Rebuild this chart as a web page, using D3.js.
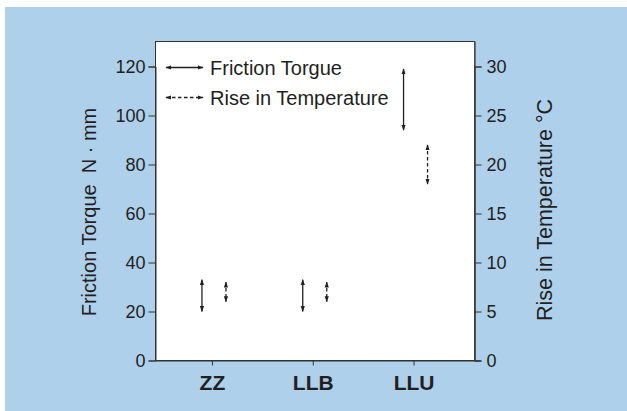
<!DOCTYPE html>
<html><head><meta charset="utf-8">
<script src="https://cdn.jsdelivr.net/npm/d3@7"></script>
<style>body{margin:0;background:#fff}svg{display:block}text{font-family:"Liberation Sans",Arial,sans-serif;fill:#231f20}</style>
</head><body><svg id="c" width="627" height="411"></svg>
<script>
const categories = ["ZZ", "LLB", "LLU"];
const torqueLow = [20, 20, 94];
const torqueHigh = [33, 33, 119];
const tempLow = [6, 6, 18];
const tempHigh = [8, 8, 22];
const torqueTicks = [0, 20, 40, 60, 80, 100, 120];
const tempTicks = [0, 5, 10, 15, 20, 25, 30];
const legendLabels = ["Friction Torgue", "Rise in Temperature"];

const svg = d3.select("#c");
const L = 155.5, R = 474.5, T = 41.5, B = 360.5;
svg.append("rect").attr("x", 5).attr("y", 7).attr("width", 622).attr("height", 404).attr("fill", "#aed0eb");
svg.append("rect").attr("x", L).attr("y", T).attr("width", R - L).attr("height", B - T).attr("fill", "#fff").attr("stroke", "#333").attr("stroke-width", 1);
svg.append("line").attr("x1", R + 0.5).attr("x2", R + 0.5).attr("y1", T).attr("y2", B).attr("stroke", "#555").attr("stroke-width", 1.5);

const x = d3.scalePoint().domain(categories).range([L, 470]).padding(0.56);
const yT = d3.scaleLinear().domain([0, 120]).range([B, 66.5]);
const yR = d3.scaleLinear().domain([0, 30]).range([B, 66.5]);

const fontTick = "18px";
const ax = svg.append("g").attr("transform", `translate(${L},0)`)
  .call(d3.axisLeft(yT).tickValues(torqueTicks).tickSize(7).tickPadding(3));
const ar = svg.append("g").attr("transform", `translate(${R},0)`)
  .call(d3.axisRight(yR).tickValues(tempTicks).tickSize(7).tickPadding(5));
const ab = svg.append("g").attr("transform", `translate(0,${B})`)
  .call(d3.axisBottom(x).tickSize(5).tickPadding(10));
[ax, ar, ab].forEach(g => {
  g.select(".domain").attr("stroke", "#333");
  g.selectAll(".tick line").attr("stroke", "#333");
  g.selectAll("text").attr("fill", "#231f20").style("font-family", '"Liberation Sans",Arial,sans-serif');
});
ax.selectAll("text").style("font-size", fontTick).attr("dy", "0.36em");
ar.selectAll("text").style("font-size", fontTick).attr("dy", "0.36em");
ab.select(".domain").attr("d", `M${L},0.5H${R + 6}`);
ab.selectAll("text").style("font-size", "21px").style("font-weight", "bold").attr("dy", "0.71em");

svg.append("text").attr("transform", "translate(96,212) rotate(-90)").attr("text-anchor", "middle")
  .style("font-size", "20px").style("white-space", "pre").text("Friction Torque  N \u00B7 mm");
svg.append("text").attr("transform", "translate(552,210) rotate(-90)").attr("text-anchor", "middle")
  .style("font-size", "21.5px").style("white-space", "pre").text("Rise in Temperature \u00B0C");

const defs = svg.append("defs");
defs.append("marker").attr("id", "ah").attr("viewBox", "0 0 10 10").attr("refX", 9).attr("refY", 5)
  .attr("markerWidth", 6).attr("markerHeight", 6).attr("markerUnits", "userSpaceOnUse").attr("orient", "auto-start-reverse")
  .append("path").attr("d", "M0,1.5L10,5L0,8.5Z").attr("fill", "#231f20");

function arrow(x1, y1, x2, y2, dashed) {
  svg.append("line").attr("x1", x1).attr("y1", y1).attr("x2", x2).attr("y2", y2)
    .attr("stroke", "#231f20").attr("stroke-width", 1.3)
    .attr("stroke-dasharray", dashed ? "3.5,2.5" : null)
    .attr("marker-start", "url(#ah)").attr("marker-end", "url(#ah)");
}
categories.forEach((c, i) => {
  arrow(x(c) - 10, yT(torqueHigh[i]), x(c) - 10, yT(torqueLow[i]), false);
  arrow(x(c) + 14, yR(tempHigh[i]), x(c) + 14, yR(tempLow[i]), true);
});

legendLabels.forEach((t, i) => {
  const y = 67.5 + i * 30;
  arrow(166, y, 203, y, i === 1);
  svg.append("text").attr("x", 210).attr("y", y).attr("dy", "0.36em").style("font-size", "20px").text(t);
});
</script></body></html>
